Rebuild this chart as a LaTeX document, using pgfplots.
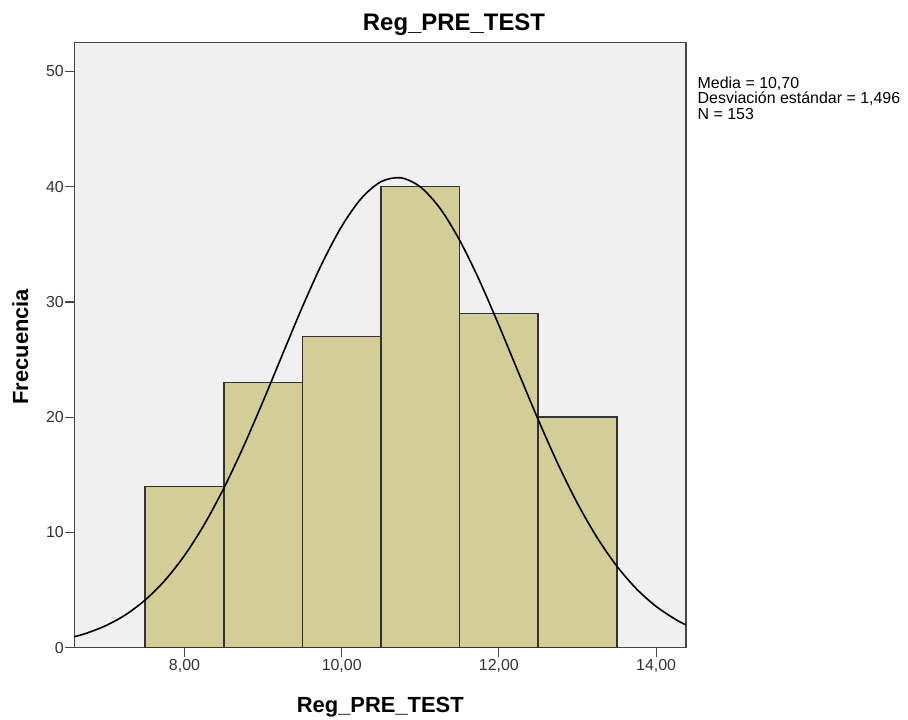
\documentclass[border=0pt]{standalone}
\usepackage{fontspec}
\setmainfont{Liberation Sans}
\usepackage{pgfplots}
\pgfplotsset{compat=1.18}
\definecolor{barfill}{RGB}{211,206,151}
\definecolor{bgfill}{RGB}{240,240,240}
\definecolor{framec}{RGB}{70,70,70}
\begin{document}
\begin{tikzpicture}
\useasboundingbox (-74.3bp,-72.3bp) rectangle (833.7bp,647.7bp);
\begin{axis}[
  at={(0,0)}, anchor=south west,
  scale only axis, width=611.7bp, height=605bp,
  xmin=6.598, xmax=14.38, ymin=0, ymax=52.5,
  xtick={8,10,12,14}, xticklabels={{8,00},{10,00},{12,00},{14,00}},
  ytick={0,10,20,30,40,50},
  tick align=outside, tick pos=left,
  major tick length=9bp,
  tick style={framec, line width=1.1bp},
  axis line style={framec, line width=1.4bp},
  axis background/.style={fill=bgfill},
  /pgf/number format/assume math mode=true,
  ticklabel style={font=\fontsize{16}{16}\selectfont, text=black!80},
  xticklabel style={yshift=1bp},
  yticklabel style={xshift=2bp},
  clip=true,
]
\addplot[ybar interval, fill=barfill, draw=black!80, line width=1.5bp]
  coordinates {(7.5,14) (8.5,23) (9.5,27) (10.5,40) (11.5,29) (12.5,20) (13.5,20)};
\addplot[smooth, black, line width=1.6bp, mark=none] coordinates {
(6.598,0.951) (6.75,1.250) (7.0,1.916) (7.25,2.856) (7.5,4.141) (7.75,5.838)
(8.0,8.004) (8.25,10.673) (8.5,13.837) (8.75,17.447) (9.0,21.391) (9.25,25.507)
(9.5,29.578) (9.75,33.350) (10.0,36.569) (10.25,38.995) (10.5,40.437)
(10.75,40.777) (11.0,39.988) (11.25,38.133) (11.5,35.363) (11.75,31.894)
(12.0,27.970) (12.25,23.853) (12.5,19.783) (12.75,15.956) (13.0,12.513)
(13.25,9.544) (13.5,7.079) (13.75,5.105) (14.0,3.581) (14.25,2.442) (14.38,1.98)
};
\end{axis}
\node[anchor=base, font=\fontsize{24}{24}\selectfont\bfseries] at (379.7bp,616.7bp) {Reg\_PRE\_TEST};
\node[anchor=base, font=\fontsize{22}{22}\selectfont\bfseries] at (306bp,-65bp) {Reg\_PRE\_TEST};
\node[rotate=90, anchor=center, font=\fontsize{22}{22}\selectfont\bfseries] at (-54bp,301bp) {Frecuencia};
\node[anchor=base west, inner sep=0pt, font=\fontsize{16}{16}\selectfont] at (623.2bp,559.4bp) {Media = 10,70};
\node[anchor=base west, inner sep=0pt, font=\fontsize{16}{16}\selectfont] at (623.2bp,543.7bp) {Desviación estándar = 1,496};
\node[anchor=base west, inner sep=0pt, font=\fontsize{16}{16}\selectfont] at (623.2bp,527.7bp) {N = 153};
\end{tikzpicture}
\end{document}
